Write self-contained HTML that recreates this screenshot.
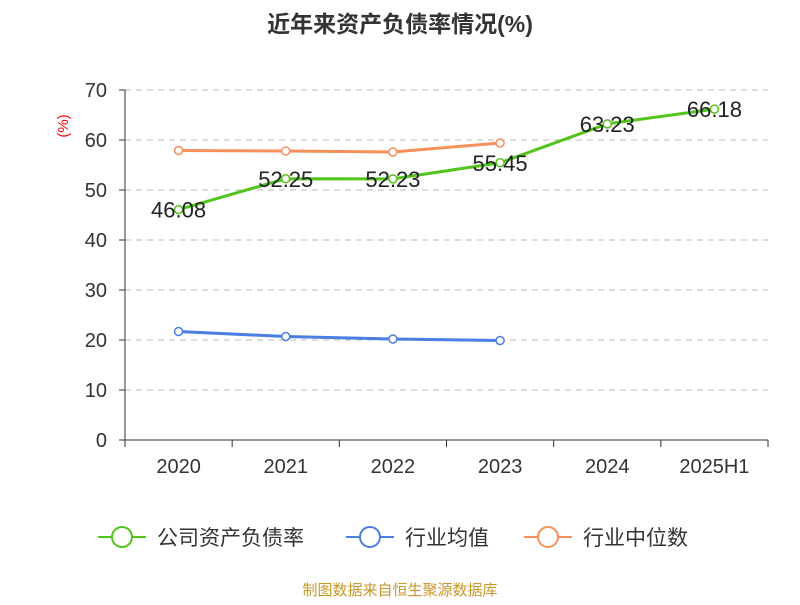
<!DOCTYPE html>
<html><head><meta charset="utf-8"><style>
body{margin:0;background:#fff;font-family:"Liberation Sans","Noto Sans CJK SC",sans-serif}
</style></head><body>
<svg width="800" height="600" font-family="Liberation Sans, Noto Sans CJK SC, sans-serif">
<text x="400" y="32" text-anchor="middle" font-size="23" font-weight="bold" fill="#333">近年来资产负债率情况(%)</text>
<text transform="translate(68,126) rotate(-90)" text-anchor="middle" font-size="15" fill="#e00">(%)</text>
<g id="axes"></g><g id="series"></g>
<g id="legend" font-size="21" fill="#333">
<g><line x1="98" x2="146" y1="537" y2="537" stroke="#52c41a" stroke-width="2"/><circle cx="122" cy="537" r="10" fill="#fff" stroke="#52c41a" stroke-width="2"/><text x="157" y="545">公司资产负债率</text></g>
<g><line x1="346" x2="394" y1="537" y2="537" stroke="#4a7ee0" stroke-width="2"/><circle cx="370" cy="537" r="10" fill="#fff" stroke="#4a7ee0" stroke-width="2"/><text x="405" y="545">行业均值</text></g>
<g><line x1="524" x2="572" y1="537" y2="537" stroke="#f7905a" stroke-width="2"/><circle cx="548" cy="537" r="10" fill="#fff" stroke="#f7905a" stroke-width="2"/><text x="583" y="545">行业中位数</text></g>
</g>
<text x="400" y="595" text-anchor="middle" font-size="15" fill="#c9962a">制图数据来自恒生聚源数据库</text>
</svg>
<script>
const categories=["2020","2021","2022","2023","2024","2025H1"];
const companyVals=[46.08,52.25,52.23,55.45,63.23,66.18];
const avgVals=[21.7,20.7,20.2,19.9];
const medianVals=[57.9,57.8,57.6,59.4];
const yTicks=[0,10,20,30,40,50,60,70];
const NS="http://www.w3.org/2000/svg";
const L=125,R=768,T=90,B=440,yMax=70;
const bw=(R-L)/categories.length;
const x=i=>L+bw*(i+0.5);
const y=v=>B-(v/yMax)*(B-T);
function mk(tag,attrs,parent){const e=document.createElementNS(NS,tag);for(const k in attrs)e.setAttribute(k,attrs[k]);parent.appendChild(e);return e;}
const ax=document.getElementById('axes');
yTicks.forEach(t=>{
 if(t>0){const g=mk('line',{x1:L,x2:R,y1:y(t),y2:y(t),stroke:'#bbb','stroke-dasharray':'6,5'},ax);
 
 }
 mk('line',{x1:L-6,x2:L,y1:y(t),y2:y(t),stroke:'#333'},ax);
 const tx=mk('text',{x:L-18,y:y(t)+7,'text-anchor':'end','font-size':20,fill:'#333'},ax);tx.textContent=t;
 
 
});
mk('line',{x1:L,x2:L,y1:T,y2:B,stroke:'#333'},ax);
mk('line',{x1:L,x2:R,y1:B,y2:B,stroke:'#333'},ax);
for(let i=0;i<=categories.length;i++)mk('line',{x1:L+bw*i,x2:L+bw*i,y1:B,y2:B+7,stroke:'#333'},ax);
categories.forEach((c,i)=>{const t=mk('text',{x:x(i),y:B+33,'text-anchor':'middle','font-size':20,fill:'#333'},ax);t.textContent=c;
 
 });
const sg=document.getElementById('series');
function series(vals,color,name,labels){
 const p=mk('polyline',{points:vals.map((v,i)=>x(i)+','+y(v)).join(' '),fill:'none',stroke:color,'stroke-width':3},sg);
 
 
 vals.forEach((v,i)=>{const c=mk('circle',{cx:x(i),cy:y(v),r:4,fill:'#fff',stroke:color,'stroke-width':1.5},sg);
  
  
  if(labels){const t=mk('text',{x:x(i),y:y(v)+8,'text-anchor':'middle','font-size':22,fill:'#222'},sg);t.textContent=v.toFixed(2);
   
   }});
}
series(avgVals,'#4a7ee0','industry-avg',false);
series(medianVals,'#f7905a','industry-median',false);
series(companyVals,'#52c41a','company',true);
</script>
</body></html>
